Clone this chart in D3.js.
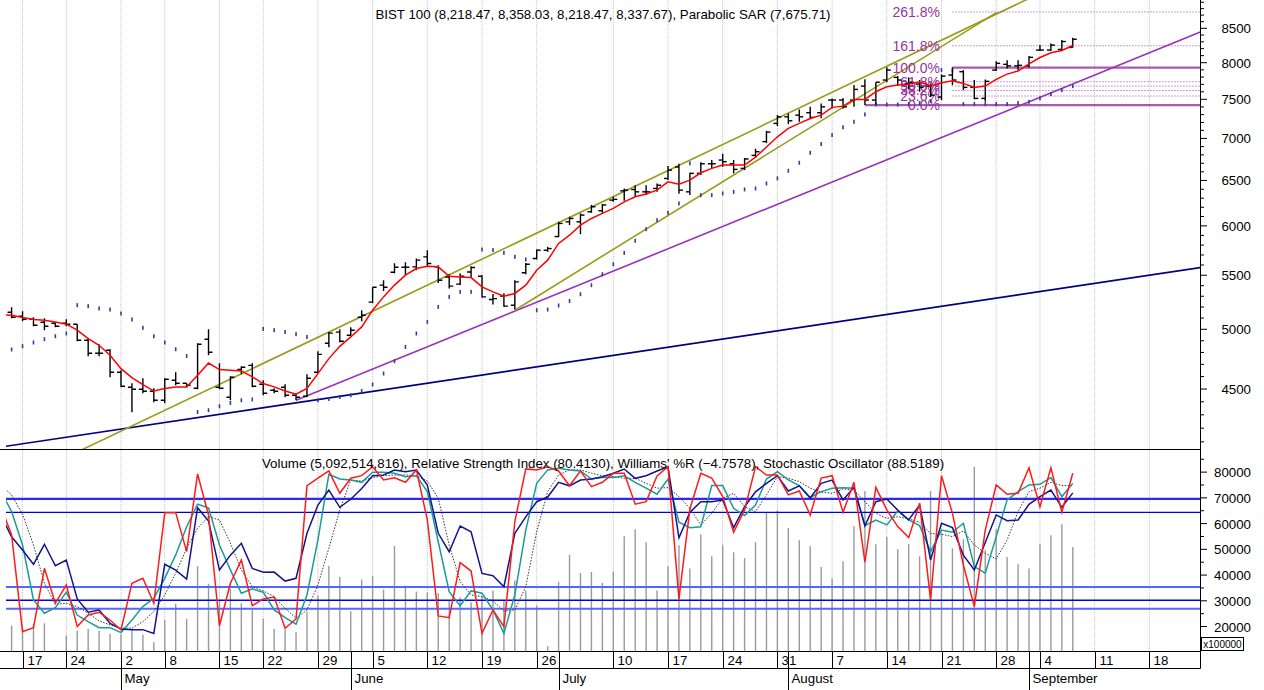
<!DOCTYPE html>
<html><head><meta charset="utf-8">
<script src="https://cdn.jsdelivr.net/npm/d3@7"></script>
<style>
html,body{margin:0;padding:0;background:#fff;}
svg{display:block;font-family:Arial,"Liberation Sans",Helvetica,sans-serif;}
</style></head><body>
<svg id="chart" width="1264" height="690"></svg>
<script>
// ---------------- DATA ----------------
const tradingDates = ["04-14","04-17","04-18","04-19","04-20","04-24","04-25","04-26","04-27","04-28",
"05-02","05-03","05-04","05-05","05-08","05-09","05-10","05-11","05-12","05-15","05-16","05-17","05-18",
"05-22","05-23","05-24","05-25","05-26","05-29","05-30","05-31","06-01","06-02","06-05","06-06","06-07","06-08","06-09",
"06-12","06-13","06-14","06-15","06-16","06-19","06-20","06-21","06-22","06-23","06-26","06-27",
"07-03","07-04","07-05","07-06","07-07","07-10","07-11","07-12","07-13","07-14","07-17","07-18","07-19","07-20","07-21",
"07-24","07-25","07-26","07-27","07-28","07-31","08-01","08-02","08-03","08-04","08-07","08-08","08-09","08-10","08-11",
"08-14","08-15","08-16","08-17","08-18","08-21","08-22","08-23","08-24","08-25","08-28","08-29","08-31","09-01",
"09-04","09-05","09-06","09-07"];
const futureDates = ["09-08","09-11","09-12","09-13","09-14","09-15","09-18","09-19","09-20","09-21","09-22"];
const weekTicks = ["04-17","04-24","05-02","05-08","05-15","05-22","05-29","06-05","06-12","06-19","06-26",
"07-10","07-17","07-24","07-31","08-07","08-14","08-21","08-28","09-04","09-11","09-18"];
const monthTicks = [["05-02","May"],["06-01","June"],["07-03","July"],["08-01","August"],["09-01","September"]];

const open = [5153,5116,5089,5062,5053,5053,5045,4904,4793,4818, 4635,4514,4498,4482,4412,4570,4546,4506,4913,4514,
4435,4659,4692,4538,4490,4514,4451,4443,4635,4878, 4975,4948,5107,5245,5405,5529,5578,5582,5681,5582,
5483,5414,5532,5490,5270,5301,5217,5524,5665,5748, 5888,6043,6043,6151,6162,6279,6382,6397,6371,6409,
6523,6656,6371,6582,6694,6738,6694,6640,6794,6961, 7188,7272,7294,7325,7325,7490,7490,7490,7677,7490,
7759,7795,7712,7704,7677,7530,7828,7874,7659,7512, 7897,7977,7955,7955,8180,8180,8189,8218.47];
const high = [5199,5162,5107,5098,5062,5089,5045,4921,4869,4826, 4651,4546,4586,4506,4586,4635,4546,4878,5000,4709,
4602,4684,4709,4570,4506,4538,4467,4618,4809,4975, 5000,5018,5171,5385,5452,5618,5628,5665,5748,5598,
5509,5516,5588,5500,5320,5327,5452,5621,5755,5782, 6043,6097,6133,6225,6236,6316,6409,6446,6446,6466,
6667,6694,6589,6713,6740,6815,6740,6762,6875,7094, 7294,7316,7367,7401,7444,7509,7517,7691,7771,7730,
7935,7813,7795,7759,7712,7836,7935,7897,7759,7768, 8020,8033,8033,8094,8253,8275,8326,8358.03];
const low = [5098,5071,5027,4992,5018,5027,4895,4768,4768,4594, 4514,4320,4467,4397,4389,4530,4514,4498,4776,4498,
4412,4618,4514,4451,4467,4435,4412,4435,4627,4843, 4887,4939,5071,5235,5348,5519,5500,5549,5588,5426,
5373,5405,5483,5288,5224,5202,5177,5509,5655,5731, 5882,6008,5913,6140,6140,6260,6271,6324,6335,6371,
6504,6349,6335,6562,6640,6656,6582,6620,6764,6943, 7155,7179,7209,7240,7252,7380,7380,7401,7424,7430,
7730,7677,7632,7600,7530,7490,7691,7623,7500,7468, 7883,7920,7897,7932,8166,8166,8181,8218.47];
const close = [5107,5089,5036,5027,5027,5045,4904,4793,4793,4635, 4522,4498,4482,4412,4578,4546,4530,4870,4801,4506,
4594,4676,4522,4467,4482,4451,4435,4586,4784,4966, 4895,4992,5125,5385,5385,5578,5578,5648,5615,5452,
5395,5490,5575,5294,5278,5208,5436,5608,5748,5765, 6026,6079,6115,6206,6225,6287,6390,6371,6371,6446,
6620,6390,6582,6694,6694,6719,6628,6751,6838,7079, 7272,7221,7272,7264,7401,7490,7401,7632,7490,7730,
7897,7759,7725,7659,7556,7813,7759,7659,7512,7741, 7991,7955,7963,8076,8180,8253,8304,8337.67];
// moving average line, first value is the day before the first bar
const maLine = [5130, 5125,5104,5086,5080,5065,5045,4992,4919,4861,4776, 4665,4592,4536,4484,4504,4517,4517,4610,4711,4657,
4651,4646,4597,4544,4517,4484,4459,4504,4624,4748, 4852,4933,5021,5171,5294,5405,5500,5565,5588,5582,
5490,5483,5477,5388,5341,5301,5326,5405,5549,5648, 5817,5902,6008,6079,6133,6188,6260,6316,6347,6390,
6484,6458,6504,6589,6640,6679,6679,6679,6772,6895, 7020,7125,7188,7251,7294,7394,7410,7499,7499,7601,
7668,7691,7705,7736,7677,7722,7749,7713,7659,7677, 7768,7841,7883,7982,8073,8141,8174,8246];
const sar = [4825,4853,4885,4913,4939,4963,5217,5208,5187,5177, 5141,5087,5013,4939,4885,4827,4770,4321,4335,4366,
4391,4412,4418,5003,4992,4977,4957,4933,4412,4422, 4438,4451,4485,4536,4625,4726,4847,4963,5066,5201,
5294,5341,5341,5755,5749,5721,5681,5655,5171,5177, 5214,5256,5319,5404,5510,5608,5721,5844,5965,6061,
6140,6242,6699,6334,6334,6353,6371,6398,6409,6466, 6524,6612,6706,6825,6931,7041,7138,7209,7303,7431,
7431,7431,7437,7450,7476,7897,7891,7437,7437,7437, 7437,7437,7450,7467,7512,7570,7623,7675.71];
// volume in units of 100000
const volume = [20390,19500,21050,21300,10650,16500,18400,19100,18440,17150, 17000,19100,16770,13890,22610,28850,23000,43380,36640,30000,
34690,29090,26600,23000,19100,18830,17780,25840,32080,43500, 39210,25960,38310,39600,34420,51290,35970,33640,33370,32980,
30130,31300,29470,31700,34000,30000,37920,34030,28180,12330, 37270,47940,40780,41170,36870,41430,55070,57790,52730,34030,
43490,51560,42600,55840,47270,51560,48830,46610,52730,64420, 65200,58300,53510,51170,43100,38700,45330,58960,72710,51950,
54790,50000,51950,47270,72710,56230,50390,53900,82060,49610, 57790,47000,44160,42600,51950,55450,59740,50925.14816];
// oscillators: first value is the day before the first bar
const williamsR = [-24.1,-41.3,-98.6,-96.2,-61.1,-81.8,-70.9,-95.6,-88.7,-87.1,-91.7,
-97.6,-69.9,-67,-81.8,-28.1,-28.1,-51.2,-5.2,-29.5,-95.1, -69.9,-56.1,-83.2,-79.2,-78.1,-96.6,-91.1,-12.1,-7.7,-3.4,
-16.6,-7.7,-6.2,-0.9,-8.7,-7.4,-10.1,-2.8,-32.4,-89.3, -90.3,-57.7,-62.7,-99.6,-85.8,-95.6,-33.4,-2.2,-2.8,-0.9,
-3.4,-12.1,-3.4,-12.7,-10.1,-4.8,-4.8,-23.1,-21.6,-6.4, -0.9,-79.2,-25.9,-4.8,-7.6,-18.6,-39.7,-26.5,-0.9,-5.8,
-5.8,-17.6,-15.3,-29.5,-7.6,-6.2,-27.9,-10.1,-57.5,-13.1, -26.5,-36.4,-42.9,-22.5,-79.8,-6.2,-28.5,-59.1,-83.8,-38.4,
-11.7,-17.2,-16.6,-1.5,-24.6,-1.5,-27.9,-4.7578];
const rsi = [68.6,56.9,49.8,42.2,52.9,41.4,44.5,23.6,16.5,17.7,10.6,
7.5,7.2,7.2,5.2,42.2,39.1,34.3,72.5,65.3,39.1, 47.1,53.4,40,37.9,38,33.2,34.7,58.8,73.9,81.9,
72.7,77,82.8,89.6,90,92.6,91.7,92.6,84.6,58.8, 48.9,62.7,59.6,37.3,36.1,30.2,58.8,67.6,75.7,78.2,
86.1,84.2,87.3,87.8,89.1,90.9,93.2,88.2,89.6,92.1, 94.4,56.4,70,75.7,75.7,76.6,61.8,73,81,85.5,
89.6,81.4,84.2,77.7,85.5,87.3,76.6,83.4,62.8,75.7, 77.1,71.2,65.9,73.9,44.5,64.1,61.8,47.1,39.1,53.9,
68.6,65.5,65.9,74.3,78.4,81.9,72.7,80.413];
const stochK = [84.4,73.1,54.8,24.8,17.5,20.5,29,16.5,12.9,9.6,9.6,
6.9,13.8,21.1,25.7,36.6,49.4,64.8,77.1,75.2,54.8, 41.2,28.4,30.8,29,19.3,15.1,11.5,27.5,57.6,93.5,
90.9,90.4,89.1,94.6,94.6,94.1,92.2,92.7,84,56.6, 29.3,21.6,29.7,28.4,19.3,6.5,27.5,63,88.6,95.9,
96.8,95.9,95.3,90.9,91.7,91.7,92.7,89.1,85.9,82.6, 90.9,67.3,64.3,64.8,87.3,87.3,74.9,70.9,76.7,90.9,
94.9,90.4,87.3,80.8,84,85.9,86.2,85.9,65.4,68.5, 65.8,73.4,68.5,65.4,51.2,63,61.8,66.7,43,39.4,
59.4,79.5,84,87.7,88,91.7,81.3,88.5189];
const stochD = [87.7,82.2,71.6,54.8,33.9,22.4,22.9,21.1,17.5,13.3,11.1,
9.3,9.3,12.9,18.4,27.5,39.4,53,64,70.3,68.5, 55.8,41.2,32,29.7,26.6,20.2,14.7,19.3,33,53,
74,90.4,89.8,91.7,92.7,93.1,93.1,92.7,89.8,80.4, 54.8,34.8,27.5,26.6,24.2,18.7,19.3,32,62.1,84,
93.1,95.9,95.9,94.1,92.7,92.2,91.3,91.3,88.6,85.9, 86.2,81.3,74.9,65.8,72.2,80.4,83.1,75.8,73.1,82.2,
92.2,91.3,89.5,85.9,83.7,83.1,85.5,84.9,78.5,72.2, 69.4,70.3,69.1,67.3,61.2,60.7,59.4,62.5,54.8,50.3,
47.2,57.6,73.1,84,85.9,89.1,87.3,87.3];
const rsiLevels = [70, 30];
const williamsLevels = [-20, -80];
const stochLevels = [80, 20];
const priceTicks = [4500,5000,5500,6000,6500,7000,7500,8000,8500];
const volumeTicks = [20000,30000,40000,50000,60000,70000,80000];
// trend lines: [index, price] anchors
const navyTrend = [[0,4074],[100,5437]];
const purpleTrend = [[26,4412],[108.6,8440]];
const oliveUpper = [[26,4840],[90,8715]];
const oliveLower = [[46,5171],[90.05,8743]];
const fibLow = {i:78, p:7424}, fibHigh = {i:86, p:7930};
const fibLevels = [0, 23.6, 38.2, 50, 61.8, 100, 161.8, 261.8];
const fibLabels = ["0.0%","23.6%","38.2%","50.0%","61.8%","100.0%","161.8%","261.8%"];

// ---------------- CHART ----------------
const FS = 13.3;
const svg = d3.select("#chart");
const allDates = tradingDates.concat(futureDates);
const idx = d => allDates.indexOf(d);
const plotL = 6, plotR = 1200, mainBot = 449.5, lowTop = 450, lowBot = 651.5, bandBot = 668.5;
const x = d3.scaleLinear().domain([0,108]).range([11.6, 11.6+108*10.94]);
const y = d3.scaleLog().domain([4045, 8935]).range([mainBot, 0]);
const yVol = d3.scaleLinear().domain([10300, 88600]).range([lowBot, lowTop]);
const yRsi = d3.scaleLinear().domain([0,100]).range([643.1, 456.3]);
const yWr = d3.scaleLinear().domain([-100,0]).range([634, 465.2]);
const ySto = d3.scaleLinear().domain([0,100]).range([645.2, 462.4]);

const defs = svg.append("defs");
defs.append("clipPath").attr("id","clipMain").append("rect").attr("x",plotL).attr("y",0).attr("width",plotR-plotL).attr("height",mainBot);
defs.append("clipPath").attr("id","clipLow").append("rect").attr("x",plotL).attr("y",lowTop).attr("width",plotR-plotL).attr("height",lowBot-lowTop);

// grid lines
const grid = svg.append("g");
weekTicks.forEach(d => {
  const xx = x(idx(d));
  grid.append("line").attr("x1",xx).attr("x2",xx).attr("y1",0).attr("y2",lowBot)
    .attr("stroke","#c4c4c4").attr("stroke-width",1).attr("stroke-dasharray","1,1");
});

// titles
const f2 = d3.format(",.2f");
const n = close.length - 1;
svg.append("text").attr("x",603).attr("y",19).attr("text-anchor","middle").attr("font-size",FS).attr("fill","#000")
  .text(`BIST 100 (${f2(open[n])}, ${f2(high[n])}, ${f2(low[n])}, ${f2(close[n])}), Parabolic SAR (${f2(sar[n])})`);

// ---------- main panel ----------
const gm = svg.append("g").attr("clip-path","url(#clipMain)");
function trend(anchors, i0, i1) {
  const [[a,pa],[b,pb]] = anchors;
  const k = (Math.log(pb)-Math.log(pa))/(b-a);
  const p = i => pa*Math.exp((i-a)*k);
  return [[x(i0), y(p(i0))],[x(i1), y(p(i1))]];
}
const ln = d3.line();
gm.append("path").attr("d", ln(trend(navyTrend,-5,115))).attr("stroke","#000080").attr("stroke-width",1.6).attr("fill","none");
gm.append("path").attr("d", ln(trend(purpleTrend,26,115))).attr("stroke","#9933bb").attr("stroke-width",1.6).attr("fill","none");
gm.append("path").attr("d", ln(trend(oliveUpper,-5,115))).attr("stroke","#9c9c1c").attr("stroke-width",1.6).attr("fill","none");
gm.append("path").attr("d", ln(trend(oliveLower,46,90.05))).attr("stroke","#9c9c1c").attr("stroke-width",1.6).attr("fill","none");

// fibonacci
fibLevels.forEach((lv,k) => {
  const p = fibLow.p + (fibHigh.p - fibLow.p)*lv/100;
  const yy = y(p);
  const solid = (lv===0 || lv===100);
  const xs = lv===0 ? x(fibLow.i) : x(fibHigh.i);
  gm.append("line").attr("x1",xs).attr("x2",plotR).attr("y1",yy).attr("y2",yy)
    .attr("stroke", solid ? "#9a3d9a" : "#a040a0")
    .attr("stroke-width", solid ? 2.2 : 1)
    .attr("stroke-opacity", solid ? 0.85 : 1)
    .attr("stroke-dasharray", solid ? null : "1,2");
  gm.append("text").attr("x",940).attr("y",yy+5).attr("text-anchor","end").attr("font-size",14)
    .attr("fill","#993399").text(fibLabels[k]);
});

// parabolic SAR
gm.selectAll("rect.sar").data(sar).enter().append("rect")
  .attr("x",(d,i)=>x(i)-0.8).attr("y",d=>y(d)-2).attr("width",1.6).attr("height",4)
  .attr("fill","#3a3aa0");

// OHLC bars
const bars = gm.append("g").attr("stroke","#000").attr("stroke-width",1.4);
close.forEach((c,i) => {
  const xx = x(i);
  bars.append("line").attr("x1",xx).attr("x2",xx).attr("y1",y(high[i])).attr("y2",y(low[i]));
  bars.append("line").attr("x1",xx-4).attr("x2",xx).attr("y1",y(open[i])).attr("y2",y(open[i]));
  bars.append("line").attr("x1",xx).attr("x2",xx+4).attr("y1",y(c)).attr("y2",y(c));
});

// moving average
gm.append("path").datum(maLine).attr("fill","none").attr("stroke","#ff0000").attr("stroke-width",1.5)
  .attr("d", d3.line().x((d,i)=>x(i-1)).y(d=>y(d)));

// main axis
const ax = svg.append("g");
ax.append("line").attr("x1",0).attr("x2",plotR+0.5).attr("y1",mainBot).attr("y2",mainBot).attr("stroke","#000");
ax.append("line").attr("x1",plotR+0.5).attr("x2",plotR+0.5).attr("y1",0).attr("y2",bandBot).attr("stroke","#000");
d3.range(4100, 8901, 100).forEach(v => {
  const major = priceTicks.includes(v);
  ax.append("line").attr("x1",plotR).attr("x2",plotR+(major?7:4)).attr("y1",y(v)).attr("y2",y(v)).attr("stroke","#000");
});
priceTicks.forEach(v => {
  ax.append("text").attr("x",1251).attr("y",y(v)+5).attr("text-anchor","end").attr("font-size",FS).text(v);
});

// ---------- lower panel ----------
const gl = svg.append("g").attr("clip-path","url(#clipLow)");
gl.selectAll("line.vol").data(volume).enter().append("line")
  .attr("x1",(d,i)=>x(i)).attr("x2",(d,i)=>x(i)).attr("y1",lowBot).attr("y2",d=>yVol(d))
  .attr("stroke","#9a9a9a").attr("stroke-width",1.4);

function level(yy, w, col) {
  gl.append("line").attr("x1",plotL).attr("x2",plotR).attr("y1",yy).attr("y2",yy)
    .attr("stroke",col).attr("stroke-width",w);
}
williamsLevels.forEach(v => level(yWr(v), v===-20 ? 2.2 : 1.3, v===-20 ? "#2a2aff" : "#0000dd"));
stochLevels.forEach(v => level(ySto(v), v===80 ? 1.2 : 2, v===80 ? "#2a2aff" : "#5566ff"));
rsiLevels.forEach(v => level(yRsi(v), v===70 ? 1.3 : 2, v===70 ? "#0000dd" : "#5566ff"));

function osc(data, sc, col, w, dash) {
  gl.append("path").datum(data).attr("fill","none").attr("stroke",col).attr("stroke-width",w)
    .attr("stroke-dasharray",dash||null)
    .attr("d", d3.line().x((d,i)=>x(i-1)).y(d=>sc(d)));
}
osc(stochD, ySto, "#333", 1, "1.5,1.5");
osc(stochK, ySto, "#1a9a9a", 1.5);
osc(rsi, yRsi, "#14148c", 1.5);
osc(williamsR, yWr, "#ff1a1a", 1.5);

const f4 = d3.format(".4f"), fInt = d3.format(",");
svg.append("text").attr("x",603).attr("y",468).attr("text-anchor","middle").attr("font-size",FS).attr("fill","#000")
  .text(`Volume (${fInt(Math.round(volume[n]*100000))}), Relative Strength Index (${f4(rsi[rsi.length-1])}), Williams' %R (${f4(williamsR[williamsR.length-1])}), Stochastic Oscillator (${f4(stochK[stochK.length-1])})`);

// volume axis
d3.range(15000, 85001, 5000).forEach(v => {
  const major = volumeTicks.includes(v);
  ax.append("line").attr("x1",plotR).attr("x2",plotR+(major?7:4)).attr("y1",yVol(v)).attr("y2",yVol(v)).attr("stroke","#000");
});
volumeTicks.forEach(v => {
  ax.append("text").attr("x",1251).attr("y",yVol(v)+5).attr("text-anchor","end").attr("font-size",FS).text(v);
});
ax.append("rect").attr("x",1201.5).attr("y",637.5).attr("width",42).attr("height",13).attr("fill","#fff").attr("stroke","#000");
ax.append("text").attr("x",1222.5).attr("y",648).attr("text-anchor","middle").attr("font-size",10).text("x100000");

// ---------- date axis ----------
ax.append("line").attr("x1",0).attr("x2",plotR+0.5).attr("y1",lowBot).attr("y2",lowBot).attr("stroke","#000");
ax.append("line").attr("x1",0).attr("x2",plotR+0.5).attr("y1",bandBot).attr("y2",bandBot).attr("stroke","#000");
ax.append("line").attr("x1",0).attr("x2",plotR+0.5).attr("y1",lowTop-0.5).attr("y2",lowTop-0.5).attr("stroke","#000");
weekTicks.forEach(d => {
  const xx = Math.round(x(idx(d))) + 0.5;
  ax.append("line").attr("x1",xx).attr("x2",xx).attr("y1",lowBot).attr("y2",bandBot).attr("stroke","#000");
  ax.append("text").attr("x",xx+4).attr("y",665).attr("font-size",FS).text(+d.slice(3));
});
monthTicks.forEach(([d,lab]) => {
  const xx = Math.round(x(idx(d))) + 0.5;
  ax.append("line").attr("x1",xx).attr("x2",xx).attr("y1",lowBot).attr("y2",690).attr("stroke","#000");
  ax.append("text").attr("x",xx+3).attr("y",683).attr("font-size",FS).text(lab);
});
</script></body></html>
